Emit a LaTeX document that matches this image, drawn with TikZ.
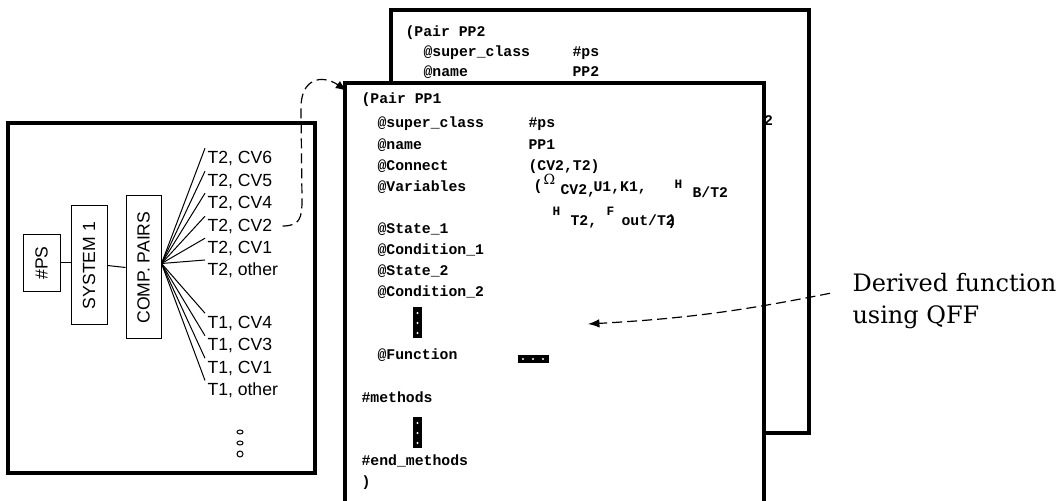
\documentclass[tikz,border=0pt]{standalone}
\usepackage{fontspec}
\usepackage{tikz}
\usetikzlibrary{arrows.meta}
\newfontfamily\leaffont{Liberation Sans}
\newfontfamily\codefont{Liberation Mono}
\newfontfamily\notefont{DejaVu Serif}
\tikzset{every picture/.style={line width=.5pt}}

\begin{document}
\begin{tikzpicture}[x=.5pt,y=-.5pt,>=Latex,
 code/.style={anchor=base west,inner sep=0,
  font=\codefont\bfseries\fontsize{7.4}{9}\selectfont},
 tiny/.style={anchor=base west,inner sep=0,
  font=\codefont\bfseries\fontsize{6.4}{7}\selectfont},
 leaf/.style={anchor=west,inner sep=1pt,
  font=\leaffont\fontsize{8.8}{10}\selectfont},
 tag/.style={draw,inner sep=0,font=\leaffont\fontsize{8.8}{10}\selectfont},
 sheet/.style={draw,fill=white,line width=1.8pt},
 flow/.style={->,dash pattern=on 5pt off 2.5pt,line width=.6pt}]
 \clip (0,0) rectangle (1058,501);

 % Back sheet: only its head shows above the front one.
 \draw[sheet] (391,10) rectangle (809,433);
 \node[code] at (405,37) {(Pair PP2};
 \node[code] at (423,57) {@super\_class};
 \node[code] at (572,57) {\#ps};
 \node[code] at (423,77) {@name};
 \node[code] at (572,77) {PP2};
 \node[code] at (737,126) {B/T2};

 % Front sheet.
 \draw[sheet] (345,83) rectangle (764,520);
 \coordinate (pp1) at (347,91);
 \node[code] at (361,104) {(Pair PP1};
 \foreach \yy/\key in {128/@super\_class,150/@name,171/@Connect,
  192/@Variables,234/@State\_1,255/@Condition\_1,276/@State\_2,
  297/@Condition\_2,360/@Function}
  \node[code] at (377,\yy) {\key};
 \node[code] at (528,128) {\#ps};
 \node[code] at (528,150) {PP1};
 \node[code] at (528,171) {(CV2,T2)};
 \node[code] at (533,191) {(};
 \node[anchor=base west,inner sep=0,font=\notefont\fontsize{7}{8}\selectfont]
  at (543,185) {Ω};
 \node[code] at (560,195) {CV2,};
 \node[code] at (593,192) {U1,K1,};
 \node[tiny] at (674,189) {H};
 \node[code] at (692,198) {B/T2};
 \node[tiny] at (552,216) {H};
 \node[code] at (570,226) {T2,};
 \node[tiny] at (606,216) {F};
 \node[code] at (621,226) {out/T2};
 \node[code] at (667,226) {)};
 \node[code] at (361,402) {\#methods};
 \node[code] at (361,465) {\#end\_methods};
 \node[code] at (361,486) {)};

 % Inverted ellipses.
 \foreach \yy in {307,417}{
  \fill (413,\yy) rectangle (422,\yy+31);
  \foreach \dd in {6,16,26}
   \fill[white] (417.5,\yy+\dd) circle (.55pt);
 }
 \fill (518,355) rectangle (549,363);
 \foreach \xx in {523,533,543}
  \fill[white] (\xx,359) circle (.55pt);

 % Left panel: class tree.
 \draw[line width=1.8pt] (8,123) rectangle (315,473);
 \node[tag,minimum width=18.5pt,minimum height=28.5pt] (ps) at (41.5,263)
  {\rotatebox{90}{\#PS}};
 \node[tag,minimum width=18pt,minimum height=59.5pt] (sys) at (89,265.5)
  {\rotatebox{90}{SYSTEM 1}};
 \node[tag,minimum width=17.5pt,minimum height=71.5pt] (comp) at (143.5,267.5)
  {\rotatebox{90}{COMP. PAIRS}};
 \draw (ps) -- (ps -| sys.west);
 \draw (sys.east) -- (comp.west);
 \foreach \nm/\yy/\txt in {c6/158/{T2, CV6},c5/181/{T2, CV5},
  c4/203/{T2, CV4},c2/226/{T2, CV2},c1/248/{T2, CV1},co/270/{T2, other},
  d4/323/{T1, CV4},d3/345.5/{T1, CV3},d1/368/{T1, CV1},do/390.5/{T1, other}}{
  \node[leaf] (\nm) at (205,\yy) {\txt};
  \draw ([yshift=2pt]comp.east) -- (\nm.north west);
 }
 \draw (240,432) ellipse (1.5pt and 1pt);
 \draw (240,443) ellipse (1.5pt and 1pt);
 \draw (240,454) circle (1.5pt);

 \draw[flow] ([xshift=4pt]c2.east)
  .. controls (300,226) and (302,218) .. (302,200) -- (301,110)
  .. controls (300,78) and (322,74) .. (pp1);

 % Note on the right.
 \node[anchor=north west,align=left,inner sep=0,
  font=\notefont\fontsize{12}{16}\selectfont] (qff) at (852,273)
  {Derived function\\using QFF};
 \coordinate (fn) at (588,324);
 \draw[flow] ([xshift=-11pt,yshift=4pt]qff.west) to[bend left=4] (fn);
\end{tikzpicture}
\end{document}
